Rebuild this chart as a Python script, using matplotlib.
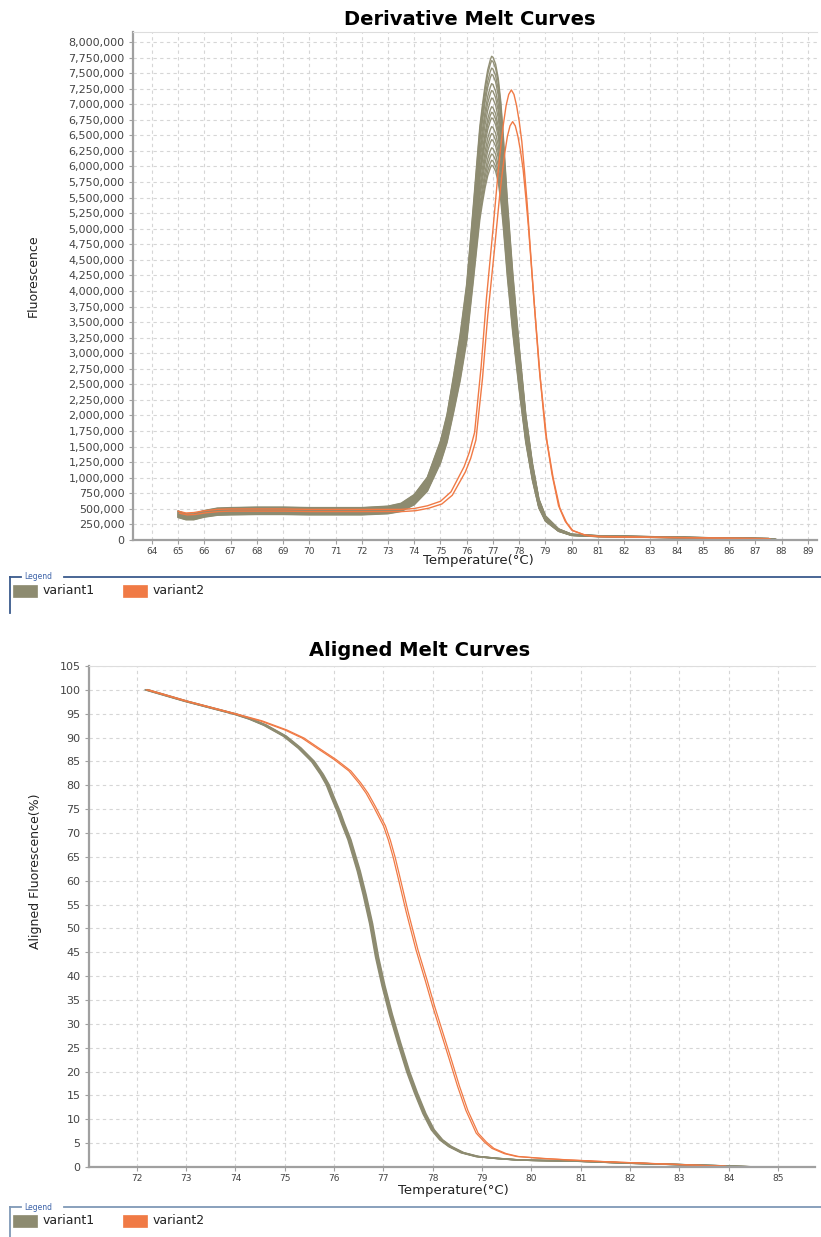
import numpy as np
import matplotlib.pyplot as plt
from matplotlib.patches import Rectangle
from matplotlib.lines import Line2D
from matplotlib.ticker import FuncFormatter, MultipleLocator

plt.rcParams['font.family'] = ['DejaVu Sans']

# -----------------------------
# Colours / names
# -----------------------------
names = ["variant1", "variant2"]
colors = ["#8d8b70", "#f07a45"]

# -----------------------------
# Derivative melt curves
# shape relative to peak height, one template per variant
# -----------------------------
deriv_t1 = [65.0, 65.3, 65.6, 66.0, 66.5, 67.0, 68.0, 69.0, 70.0, 71.0,
            72.0, 73.0, 73.5, 74.0, 74.5, 75.0, 75.25, 75.5, 75.75, 76.0,
            76.25, 76.4, 76.5, 76.6, 76.7, 76.8, 76.9, 76.95, 77.0, 77.1,
            77.2, 77.3, 77.4, 77.55, 77.75, 78.0, 78.25, 78.5, 78.75, 79.0,
            79.5, 80.0, 81.0, 82.0, 84.0, 86.0, 87.5, 87.9]
deriv_shape1 = [0.060, 0.054, 0.054, 0.061, 0.066, 0.067, 0.068, 0.068, 0.067, 0.067,
                0.067, 0.070, 0.076, 0.094, 0.130, 0.205, 0.260, 0.340, 0.425, 0.530,
                0.690, 0.790, 0.855, 0.900, 0.940, 0.972, 0.993, 1.000, 0.998, 0.984,
                0.955, 0.905, 0.830, 0.700, 0.555, 0.400, 0.260, 0.160, 0.085, 0.050,
                0.023, 0.012, 0.009, 0.008, 0.006, 0.004, 0.003, 0.0]
deriv_peaks1 = [7.77e6, 7.70e6, 7.58e6, 7.48e6, 7.33e6, 7.22e6, 7.10e6, 6.96e6,
                6.87e6, 6.78e6, 6.64e6, 6.53e6, 6.43e6, 6.30e6, 6.20e6, 6.10e6, 6.02e6]

deriv_t2 = [65.0, 65.3, 65.6, 66.0, 66.5, 67.0, 68.0, 69.0, 70.0, 71.0,
            72.0, 73.0, 73.5, 74.0, 74.5, 75.0, 75.4, 75.9, 76.1, 76.3,
            76.55, 76.75, 77.0, 77.2, 77.3, 77.4, 77.5, 77.6, 77.7, 77.8,
            77.9, 78.0, 78.1, 78.2, 78.3, 78.5, 78.75, 79.0, 79.25, 79.5,
            79.75, 80.0, 80.5, 81.0, 82.0, 84.0, 86.0, 87.5]
deriv_shape2 = [0.064, 0.060, 0.061, 0.065, 0.068, 0.069, 0.069, 0.069, 0.068, 0.068,
                0.068, 0.068, 0.068, 0.070, 0.076, 0.086, 0.107, 0.163, 0.195, 0.239,
                0.386, 0.536, 0.690, 0.820, 0.875, 0.925, 0.965, 0.990, 1.000, 0.990,
                0.965, 0.930, 0.885, 0.820, 0.750, 0.583, 0.389, 0.239, 0.146, 0.076,
                0.042, 0.022, 0.011, 0.008, 0.007, 0.0055, 0.004, 0.003]
deriv_peaks2 = [7.23e6, 6.72e6]
deriv_shift2 = [0.0, 0.05]

# -----------------------------
# Aligned melt curves
# -----------------------------
aligned_t1 = [72.2, 73.0, 74.0, 74.3, 74.6, 75.0, 75.3, 75.57, 75.75, 75.87,
              75.97, 76.1, 76.18, 76.31, 76.5, 76.62, 76.75, 76.87, 77.0, 77.15,
              77.32, 77.5, 77.66, 77.83, 78.0, 78.17, 78.35, 78.6, 78.9, 79.3,
              79.7, 80.0, 81.0, 82.0, 83.0, 84.0, 84.55]
aligned_v1 = [100.0, 97.6, 94.9, 93.9, 92.6, 90.3, 87.8, 85.0, 82.3, 80.1,
              77.5, 74.3, 72.0, 68.6, 62.0, 57.0, 51.0, 44.0, 38.0, 32.0,
              26.0, 20.0, 15.5, 11.2, 7.8, 5.7, 4.3, 3.0, 2.2, 1.8,
              1.5, 1.4, 1.2, 0.8, 0.5, 0.2, 0.0]
aligned_shift1 = [-0.03, -0.015, 0.0, 0.015, 0.03]

aligned_t2 = [72.2, 73.0, 74.0, 74.5, 75.0, 75.35, 75.65, 76.0, 76.3, 76.5,
              76.65, 76.8, 77.0, 77.1, 77.2, 77.3, 77.46, 77.66, 77.85, 78.0,
              78.17, 78.34, 78.5, 78.67, 78.88, 79.05, 79.2, 79.45, 79.7, 80.2,
              80.7, 81.5, 82.5, 83.5, 83.9]
aligned_v2 = [100.0, 97.6, 94.9, 93.5, 91.6, 89.9, 87.8, 85.4, 83.0, 80.5,
              78.3, 75.5, 71.5, 68.5, 64.8, 60.5, 53.5, 45.5, 39.0, 33.6,
              28.0, 22.4, 17.0, 11.9, 7.1, 5.2, 3.9, 2.8, 2.2, 1.8,
              1.5, 1.1, 0.7, 0.3, 0.2]
aligned_shift2 = [0.0, 0.04]

# -----------------------------
# Figure
# -----------------------------
W, H = 821, 1237
fig = plt.figure(figsize=(W / 100, H / 100), dpi=100)


def fx(px):
    return px / W


def fy(py):
    return 1 - py / H


def style_axes(ax):
    for s in ["left", "bottom"]:
        ax.spines[s].set_color("#a0a0a0")
        ax.spines[s].set_linewidth(1.6)
    ax.spines["top"].set_color("#dddddd")
    ax.spines["top"].set_linewidth(0.8)
    ax.spines["right"].set_visible(False)
    ax.grid(True, color="#d6d6d6", linestyle=(0, (3, 3)), linewidth=0.8)
    ax.set_axisbelow(True)
    ax.tick_params(axis="both", length=3, width=0.8, color="#a0a0a0",
                   labelcolor="#444444")
    ax.tick_params(axis="y", labelsize=8, pad=3)
    ax.tick_params(axis="x", labelsize=6.5, pad=2)


def draw_legend(y_line, line_color):
    fig.add_artist(Line2D([fx(10), fx(21)], [fy(y_line), fy(y_line)],
                          color=line_color, lw=1.3))
    fig.add_artist(Line2D([fx(64), fx(821)], [fy(y_line), fy(y_line)],
                          color=line_color, lw=1.3))
    fig.add_artist(Line2D([fx(10), fx(10)], [fy(y_line), fy(y_line + 36)],
                          color=line_color, lw=1.3))
    fig.text(fx(24), fy(y_line), "Legend", fontsize=5.5, color="#3d63a8",
             va="center", ha="left")
    ys = y_line + 14
    for i, (name, col) in enumerate(zip(names, colors)):
        x0 = 13 + i * 110
        fig.add_artist(Rectangle((fx(x0), fy(ys + 6)), fx(24), 12 / H,
                                 facecolor=col, edgecolor=col, lw=0.5))
        fig.text(fx(x0 + 30), fy(ys), name, fontsize=9, color="#222222",
                 va="center", ha="left")


# ---------- Derivative melt curves ----------
ax1 = fig.add_axes([fx(133), fy(540), fx(817 - 133), (540 - 32) / H])
for pk in deriv_peaks1:
    ax1.plot(deriv_t1, np.array(deriv_shape1) * pk, color=colors[0], lw=1.0, alpha=0.95)
for pk, sh in zip(deriv_peaks2, deriv_shift2):
    ax1.plot(np.array(deriv_t2) + sh, np.array(deriv_shape2) * pk, color=colors[1], lw=1.0)

ax1.set_xlim(63.28, 89.35)
ax1.set_ylim(0, 8.16e6)
ax1.xaxis.set_major_locator(MultipleLocator(1))
ax1.yaxis.set_major_locator(MultipleLocator(250000))
ax1.yaxis.set_major_formatter(FuncFormatter(lambda v, p: f"{v:,.0f}"))
style_axes(ax1)
ax1.set_title("Derivative Melt Curves", fontsize=14, fontweight="bold",
              x=0.493, pad=5)
ax1.set_xlabel("Temperature(°C)", fontsize=9.5, color="#222222", va="top")
ax1.xaxis.set_label_coords(0.505, -0.028)
ax1.set_ylabel("Fluorescence", fontsize=9, color="#222222", va="center")
ax1.yaxis.set_label_coords(-0.146, 0.52)

draw_legend(577, "#3a5a8c")

# ---------- Aligned melt curves ----------
ax2 = fig.add_axes([fx(89), fy(1167), fx(815 - 89), (1167 - 666) / H])
for sh in aligned_shift1:
    ax2.plot(np.array(aligned_t1) + sh, aligned_v1, color=colors[0], lw=1.1)
for sh in aligned_shift2:
    ax2.plot(np.array(aligned_t2) + sh, aligned_v2, color=colors[1], lw=0.9)

ax2.set_xlim(71.03, 85.75)
ax2.set_ylim(0, 105)
ax2.xaxis.set_major_locator(MultipleLocator(1))
ax2.yaxis.set_major_locator(MultipleLocator(5))
style_axes(ax2)
ax2.set_title("Aligned Melt Curves", fontsize=14, fontweight="bold",
              x=0.456, pad=7)
ax2.set_xlabel("Temperature(°C)", fontsize=9.5, color="#222222", va="top")
ax2.xaxis.set_label_coords(0.502, -0.033)
ax2.set_ylabel("Aligned Fluorescence(%)", fontsize=9, color="#222222", va="center")
ax2.yaxis.set_label_coords(-0.074, 0.59)

draw_legend(1207, "#7f98b6")

fig.savefig("out.png", dpi=100)
